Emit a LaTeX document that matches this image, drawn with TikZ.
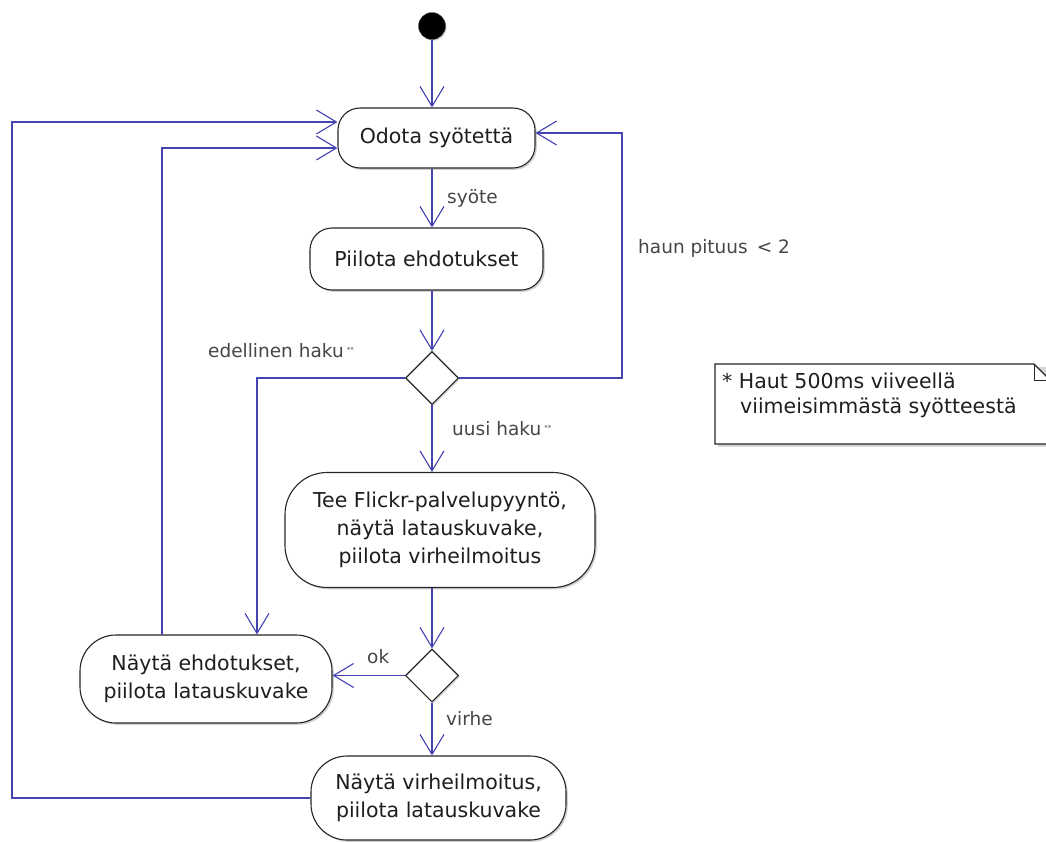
\documentclass[tikz,border=0pt]{standalone}
\usepackage{fontspec}
\setmainfont{DejaVu Sans}
\usetikzlibrary{arrows.meta,shapes.geometric,shadows}
\definecolor{flowblue}{RGB}{68,68,178}
\definecolor{txtdark}{RGB}{30,30,30}
\definecolor{txtgray}{RGB}{70,70,70}
\tikzset{
  act/.style={draw=black!85, line width=1.1pt, fill=white, rounded corners=#1,
    align=center, inner sep=0pt, text=txtdark,
    font=\fontsize{20.5}{28}\selectfont,
    drop shadow={shadow xshift=1.8pt, shadow yshift=-1.8pt, fill=black!40, opacity=0.45}},
  act/.default=24pt,
  decide/.style={diamond, draw=black!85, line width=1.1pt, fill=white, inner sep=0pt,
    minimum width=53pt, minimum height=53pt,
    drop shadow={shadow xshift=1.5pt, shadow yshift=-1.5pt, fill=black!40, opacity=0.4}},
  flow/.style={draw=flowblue, line width=1.4pt,
    -{Straight Barb[length=20pt,width=24pt,line width=1.1pt]}},
  lbl/.style={anchor=base west, inner sep=0pt, text=txtgray,
    font=\fontsize{18.5}{22}\selectfont},
  notetxt/.style={anchor=base west, inner sep=0pt, text=txtdark,
    font=\fontsize{20.5}{24}\selectfont},
}
\newcommand{\smallmark}{\,\raisebox{5pt}{\fontsize{7}{7}\selectfont **}}
\begin{document}
\begin{tikzpicture}[x=1pt,y=-1pt]
\useasboundingbox (0,0) rectangle (1046,841);
\fill[white] (0,0) rectangle (1046,841);

% start
\node[circle, fill=black, draw=black!70, minimum size=27pt, inner sep=0pt,
  drop shadow={shadow xshift=1.2pt, shadow yshift=-1.2pt, fill=black!40, opacity=0.4}] (start) at (432,26) {};

% activities
\node[act=22pt, minimum width=197pt, minimum height=60pt] (odota) at (436.5,138) {Odota syötettä};
\node[act=22pt, minimum width=233pt, minimum height=62pt] (piilota) at (426.5,259) {Piilota ehdotukset};
\node[act=42pt, minimum width=310pt, minimum height=115pt] (tee) at (440,530)
  {Tee Flickr-palvelupyyntö,\\näytä latauskuvake,\\piilota virheilmoitus};
\node[act=36pt, minimum width=252pt, minimum height=88pt] (ehd) at (206,679)
  {Näytä ehdotukset,\\piilota latauskuvake};
\node[act=36pt, minimum width=255pt, minimum height=84pt] (vir) at (438.5,798)
  {Näytä virheilmoitus,\\piilota latauskuvake};

% decisions
\node[decide] (d1) at (432,378) {};
\node[decide] (d2) at (432,675.5) {};

% helper coordinates
\coordinate (r1) at (622,378);
\coordinate (r2) at (622,133);
\coordinate (l1) at (257,378);
\coordinate (e1) at (162,635);
\coordinate (e2) at (162,148);
\coordinate (o1) at (12,797);
\coordinate (o2) at (12,122);

% connectors
\draw[flow] (start.south) -- (start.south |- odota.north);
\draw[flow] (odota.south -| start) -- (piilota.north -| start);
\draw[flow] (piilota.south -| d1) -- (d1.north);
\draw[flow] (d1.east) -- (r1) -- (r2) -- (odota.east |- r2);
\draw[flow] (d1.west) -- (l1) -- (l1 |- ehd.north);
\draw[flow] (d1.south) -- (d1.south |- tee.north);
\draw[flow] (d1.south |- tee.south) -- (d2.north);
\draw[flow] (d2.west) -- (ehd.east |- d2.west);
\draw[flow] (d2.south) -- (d2.south |- vir.north);
\draw[flow] (e1) -- (e2) -- (odota.west |- e2);
\draw[flow] (vir.west) -- (vir.west -| o1) -- (o2) -- (odota.west |- o2);

% labels
\node[lbl] (lsyote) at (447,203) {syöte};
\node[lbl] (lhaun) at (638,253) {haun pituus \,< 2};
\node[lbl] (ledel) at (208,357) {edellinen haku\smallmark};
\node[lbl] (luusi) at (452,435) {uusi haku\smallmark};
\node[lbl] (lok) at (367,663) {ok};
\node[lbl] (lvirhe) at (446,725) {virhe};

% note
\fill[black!35, opacity=0.45] (717.5,366.5) -- (1050,366.5) -- (1050,446.5) -- (717.5,446.5) -- cycle;
\draw[black!85, line width=1.1pt, fill=white] (715,364) -- (1034,364) -- (1050,380) -- (1050,444) -- (715,444) -- cycle;
\draw[black!85, line width=1pt] (1034,364) -- (1034,380) -- (1050,380);
\node[notetxt] (note1) at (722,388) {*\ Haut 500ms viiveellä};
\node[notetxt] (note2) at (740,413) {viimeisimmästä syötteestä};
\end{tikzpicture}
\end{document}
